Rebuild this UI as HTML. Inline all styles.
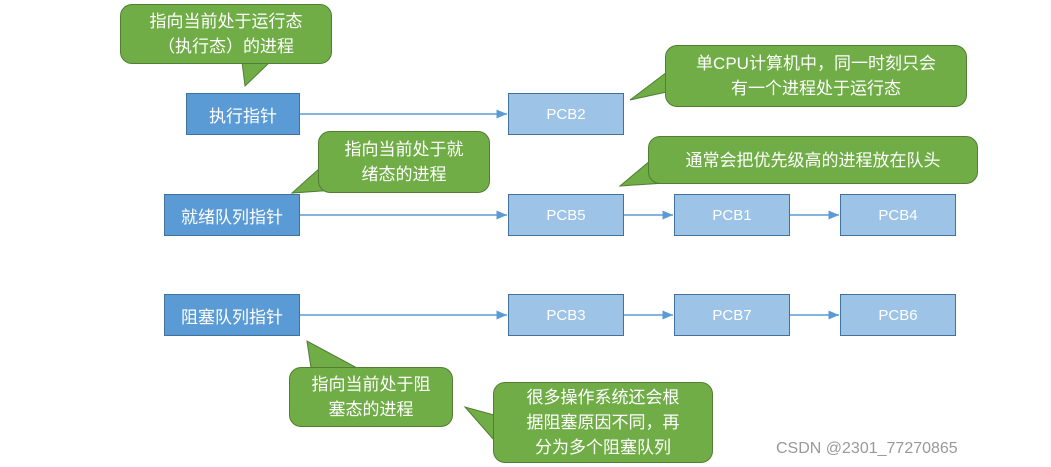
<!DOCTYPE html>
<html><head><meta charset="utf-8"><style>
body{margin:0;width:1051px;height:467px;background:#fff;overflow:hidden;position:relative;font-family:"Liberation Sans","Noto Sans CJK SC",sans-serif}
.b{position:absolute;color:#fff;display:flex;align-items:center;justify-content:center;box-sizing:border-box;font-size:17px}
.d{background:#5b9bd5;border:1px solid #41719c}
.l{background:#9dc3e6;border:1px solid #41719c;font-size:15px}
.g{position:absolute;background:#70ad47;border:1px solid #507e32;border-radius:12px;color:#fff;font-size:17px;line-height:25px;text-align:center;box-sizing:border-box;display:flex;align-items:center;justify-content:center}
svg{position:absolute;left:0;top:0}
</style></head><body>
<svg width="1051" height="467">
<defs><marker id="a" markerWidth="8" markerHeight="8" refX="7" refY="4" orient="auto"><path d="M0,1 L7,4 L0,7z" fill="#5b9bd5"/></marker></defs>
<g stroke="#5b9bd5" stroke-width="1.5" marker-end="url(#a)">
<line x1="300" y1="114" x2="507" y2="114"/>
<line x1="300" y1="215" x2="507" y2="215"/>
<line x1="624" y1="215" x2="673" y2="215"/>
<line x1="790" y1="215" x2="839" y2="215"/>
<line x1="300" y1="315" x2="507" y2="315"/>
<line x1="624" y1="315" x2="673" y2="315"/>
<line x1="790" y1="315" x2="839" y2="315"/>
</g>
<g fill="#70ad47" stroke="#507e32">
<path d="M242,62 L245,86 L270,62z"/>
<path d="M320,168 L292,193 L335,190z"/>
<path d="M667,72 L630,100 L667,92z"/>
<path d="M651,160 L620,186 L665,183z"/>
<path d="M311,368 L307,341 L357,368z"/>
<path d="M494,415 L465,407 L494,440z"/>
</g>
</svg>
<div class="g" style="left:120px;top:4px;width:212px;height:60px">指向当前处于运行态<br>（执行态）的进程</div>
<div class="g" style="left:318px;top:131px;width:172px;height:62px">指向当前处于就<br>绪态的进程</div>
<div class="g" style="left:665px;top:45px;width:302px;height:62px">单CPU计算机中，同一时刻只会<br>有一个进程处于运行态</div>
<div class="g" style="left:648px;top:136px;width:330px;height:48px">通常会把优先级高的进程放在队头</div>
<div class="g" style="left:289px;top:367px;width:164px;height:60px">指向当前处于阻<br>塞态的进程</div>
<div class="g" style="left:493px;top:382px;width:220px;height:81px">很多操作系统还会根<br>据阻塞原因不同，再<br>分为多个阻塞队列</div>
<div class="b d" style="left:186px;top:93px;width:114px;height:42px">执行指针</div>
<div class="b l" style="left:508px;top:93px;width:116px;height:42px">PCB2</div>
<div class="b d" style="left:164px;top:194px;width:136px;height:42px">就绪队列指针</div>
<div class="b l" style="left:508px;top:194px;width:116px;height:42px">PCB5</div>
<div class="b l" style="left:674px;top:194px;width:116px;height:42px">PCB1</div>
<div class="b l" style="left:840px;top:194px;width:116px;height:42px">PCB4</div>
<div class="b d" style="left:164px;top:294px;width:136px;height:42px">阻塞队列指针</div>
<div class="b l" style="left:508px;top:294px;width:116px;height:42px">PCB3</div>
<div class="b l" style="left:674px;top:294px;width:116px;height:42px">PCB7</div>
<div class="b l" style="left:840px;top:294px;width:116px;height:42px">PCB6</div>
<div style="position:absolute;left:776px;top:440px;font-size:16px;color:#999">CSDN @2301_77270865</div>
</body></html>
